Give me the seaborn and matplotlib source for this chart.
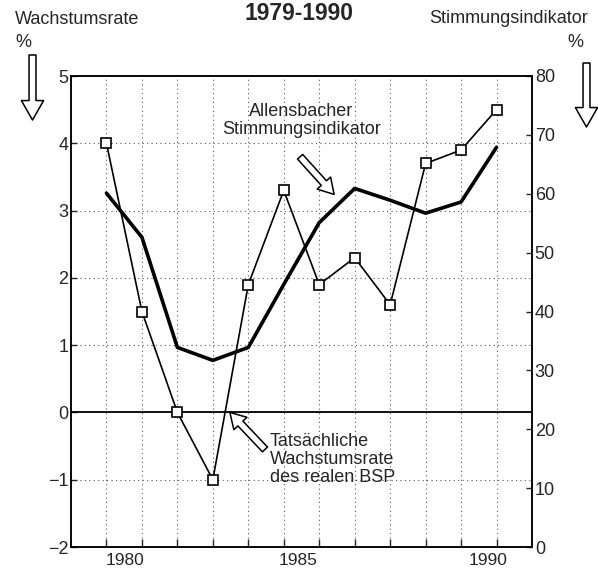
import matplotlib
matplotlib.use("Agg")
import matplotlib.pyplot as plt
import seaborn as sns

# DATA 1979-1990
years = list(range(1979, 1991))
wachstum = [4.0, 1.5, 0.0, -1.0, 1.9, 3.3, 1.9, 2.3, 1.6, 3.7, 3.9, 4.5]   # % real GNP growth
stimmung = [60.1, 52.6, 33.9, 31.7, 33.9, 44.6, 55.1, 60.9, 58.9, 56.7, 58.6, 67.9]  # % Allensbach indicator
year_labels = ["1980", "1985", "1990"]
left_ticks = [-2, -1, 0, 1, 2, 3, 4, 5]
right_ticks = [0, 10, 20, 30, 40, 50, 60, 70, 80]

sns.set_style("white")
plt.rcParams["font.family"] = ["Liberation Sans", "DejaVu Sans"]
plt.rcParams["font.size"] = 13

W, H = 598, 573
fig = plt.figure(figsize=(W / 100, H / 100), dpi=100)
ax = fig.add_axes([71 / W, 1 - 547 / H, (532 - 71) / W, (547 - 76) / H])
ax2 = ax.twinx()

# GRID (dotted)
for yr in years:
    ax.axvline(yr, color="0.35", lw=0.8, ls=(0, (1, 3)), zorder=0)
for t in left_ticks[1:-1]:
    ax.axhline(t, color="0.35", lw=0.8, ls=(0, (1, 3)), zorder=0)
ax.axhline(0, color="k", lw=1.3, zorder=1)

# LINES
sns.lineplot(x=years, y=wachstum, ax=ax, color="k", lw=1.2, marker="s",
             markersize=7, markerfacecolor="white", markeredgecolor="k",
             markeredgewidth=1.2, zorder=3)
sns.lineplot(x=years, y=stimmung, ax=ax2, color="k", lw=2.6, zorder=3)

ax.set_xlim(years[0] - 1, years[-1] + 1)
ax.set_ylim(-2, 5)
ax2.set_ylim(0, 80)
ax.set_xticks(years)
ax.set_xticklabels([])
ax.set_xticks([1979.52, 1984.4, 1989.75], minor=True)
ax.set_xticklabels(year_labels, minor=True)
ax.set_yticks(left_ticks)
ax2.set_yticks(right_ticks)
ax.set_xlabel("")
ax.set_ylabel("")
ax2.set_ylabel("")

ax.tick_params(axis="x", which="major", direction="in", length=6, width=1, bottom=True)
ax.tick_params(axis="x", which="minor", length=0, pad=4, labelsize=12.5, bottom=True)
ax.tick_params(axis="y", direction="in", length=4.5, width=1, pad=2, left=True)
ax2.tick_params(axis="y", direction="in", length=4.5, width=1, pad=2, right=True)
for a in (ax, ax2):
    for s in a.spines.values():
        s.set_color("k")
        s.set_linewidth(1.1)

# ANNOTATIONS inside the plot
hollow = dict(arrowstyle="simple,head_length=1.1,head_width=1.3,tail_width=0.5",
              fc="white", ec="k", lw=1.1, shrinkA=0, shrinkB=0, mutation_scale=10)
ax.text(1984.49, 4.34, "Allensbacher\nStimmungsindikator", ha="center", va="center",
        linespacing=1.1)
ax.annotate("", xy=(1985.42, 3.24), xytext=(1984.46, 3.80), arrowprops=hollow)
ax.text(1983.61, -0.70, "Tatsächliche\nWachstumsrate\ndes realen BSP", ha="left",
        va="center", linespacing=1.1)
ax.annotate("", xy=(1982.48, 0.0), xytext=(1983.47, -0.55), arrowprops=hollow)

# OUTER LABELS
fig.text(0.5, 1 - 20 / H, "1979-1990", ha="center", va="baseline",
         fontsize=16.5, fontweight="bold")
fig.text(15 / W, 1 - 24 / H, "Wachstumsrate", ha="left", va="baseline")
fig.text(15 / W, 1 - 47 / H, "%", ha="left", va="baseline")
fig.text(588 / W, 1 - 23 / H, "Stimmungsindikator", ha="right", va="baseline")
fig.text(583 / W, 1 - 47 / H, "%", ha="right", va="baseline")

# hollow down arrows under the axis titles (figure pixel coords)
big = dict(arrowstyle="simple,head_length=1.4,head_width=1.6,tail_width=0.5",
           fc="white", ec="k", lw=1.1, shrinkA=0, shrinkB=0, mutation_scale=10)
ax.annotate("", xy=(32.5, H - 120), xytext=(32.5, H - 55), xycoords="figure pixels",
            textcoords="figure pixels", arrowprops=big, annotation_clip=False)
ax.annotate("", xy=(586.5, H - 127), xytext=(586.5, H - 63), xycoords="figure pixels",
            textcoords="figure pixels", arrowprops=big, annotation_clip=False)

fig.savefig("out.png", dpi=100)
